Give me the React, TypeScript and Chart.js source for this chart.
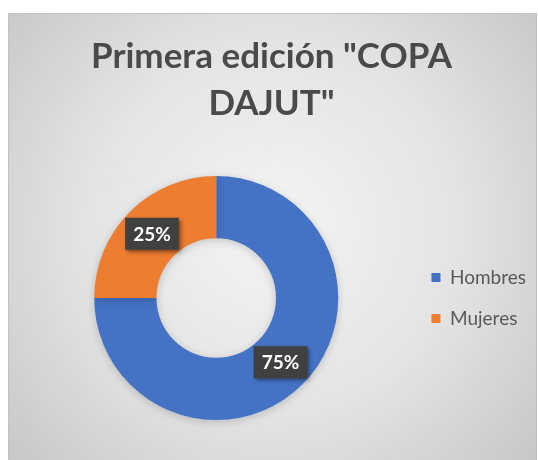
import React, { useEffect, useRef } from 'react';
import { Chart, registerables } from 'chart.js';

Chart.register(...registerables);

const titleLines = ['Primera edición "COPA', 'DAJUT"'];
const categories = ['Hombres', 'Mujeres'];
const values = [75, 25];
const colors = ['#4472C4', '#ED7D31'];

const bgPlugin = {
  id: 'bgPlugin',
  beforeDraw(chart: any) {
    const { ctx, width, height } = chart;
    ctx.save();
    const cx = width * 0.5;
    const cy = height * 0.48;
    const g = ctx.createRadialGradient(cx, cy, 0, cx, cy, Math.hypot(width, height) * 0.5);
    g.addColorStop(0, '#f4f4f4');
    g.addColorStop(0.55, '#e3e3e3');
    g.addColorStop(1, '#c8c8c8');
    ctx.fillStyle = g;
    ctx.fillRect(0, 0, width, height);
    ctx.strokeStyle = '#c2c2c2';
    ctx.lineWidth = 1;
    ctx.beginPath();
    ctx.moveTo(0.5, height);
    ctx.lineTo(0.5, 0.5);
    ctx.lineTo(width - 0.5, 0.5);
    ctx.lineTo(width - 0.5, height);
    ctx.stroke();
    ctx.restore();
  },
};

// The title is centred on the whole chart box, not on the area left of the legend.
const titleShiftPlugin = {
  id: 'titleShift',
  afterLayout(chart: any) {
    const t = chart.titleBlock;
    if (t) {
      t.left -= 8;
      t.right -= 8;
    }
  },
};

const shadowPlugin = {
  id: 'shadowPlugin',
  beforeDatasetsDraw(chart: any) {
    const { ctx } = chart;
    ctx.save();
    ctx.shadowColor = 'rgba(0,0,0,0.18)';
    ctx.shadowBlur = 8;
    ctx.shadowOffsetX = 0;
    ctx.shadowOffsetY = 2;
  },
  afterDatasetsDraw(chart: any) {
    chart.ctx.restore();
  },
};

const labelPlugin = {
  id: 'pctLabels',
  afterDatasetsDraw(chart: any) {
    const { ctx } = chart;
    const meta = chart.getDatasetMeta(0);
    const data = chart.data.datasets[0].data as number[];
    const total = data.reduce((a, b) => a + b, 0);
    ctx.save();
    ctx.font = 'bold 19px Lato';
    meta.data.forEach((arc: any, i: number) => {
      const { x, y } = arc.tooltipPosition();
      const text = Math.round((data[i] / total) * 100) + '%';
      const w = ctx.measureText(text).width + 16;
      const h = 32;
      ctx.shadowColor = 'rgba(0,0,0,0.45)';
      ctx.shadowBlur = 4;
      ctx.shadowOffsetX = 2;
      ctx.shadowOffsetY = 2;
      ctx.fillStyle = '#404040';
      ctx.fillRect(x - w / 2, y - h / 2, w, h);
      ctx.shadowColor = 'transparent';
      ctx.shadowBlur = 0;
      ctx.shadowOffsetX = 0;
      ctx.shadowOffsetY = 0;
      ctx.fillStyle = '#ffffff';
      ctx.textAlign = 'center';
      ctx.textBaseline = 'middle';
      ctx.fillText(text, x, y + 1);
    });
    ctx.restore();
  },
};

export default function App() {
  const canvasRef = useRef<HTMLCanvasElement | null>(null);

  useEffect(() => {
    if (!canvasRef.current) return;
    const chart = new Chart(canvasRef.current, {
      type: 'doughnut',
      data: {
        labels: categories,
        datasets: [
          {
            data: values,
            backgroundColor: colors,
            borderWidth: 0,
          },
        ],
      },
      options: {
        animation: false,
        responsive: true,
        maintainAspectRatio: false,
        cutout: '49%',
        layout: { padding: { top: 0, left: 15, right: 1, bottom: 40 } },
        plugins: {
          title: {
            display: true,
            text: titleLines,
            color: '#4a4a4a',
            font: { family: 'Lato', size: 35, weight: 'bold', lineHeight: 47 / 35 },
            padding: { top: 20, bottom: 49 },
          },
          legend: {
            position: 'right',
            fullSize: false,
            labels: {
              boxWidth: 9,
              boxHeight: 9,
              padding: 22,
              color: '#595959',
              font: { family: 'Lato', size: 19 },
            },
          },
          tooltip: { enabled: false },
        },
      } as any,
      plugins: [bgPlugin, titleShiftPlugin, shadowPlugin, labelPlugin],
    });
    return () => chart.destroy();
  }, []);

  return (
    <div style={{ position: 'absolute', left: 8, top: 13, width: 529, height: 447 }}>
      <canvas ref={canvasRef} />
    </div>
  );
}
